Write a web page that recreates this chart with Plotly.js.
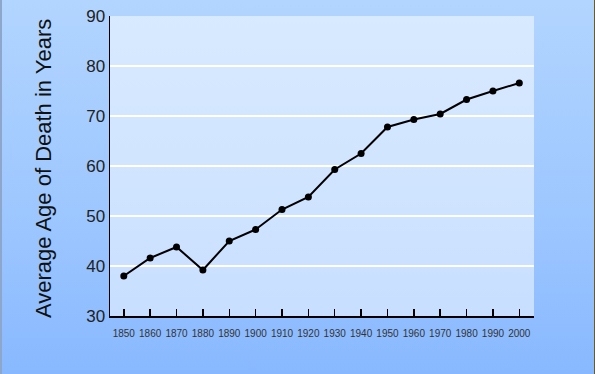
<!DOCTYPE html>
<html>
<head>
<meta charset="utf-8">
<script src="https://cdn.plot.ly/plotly-3.0.1.min.js"></script>
<style>
html,body{margin:0;padding:0;}
#wrap{position:relative;width:595px;height:374px;overflow:hidden;
 background:linear-gradient(to bottom,#b2d5ff 0%,#9cc6ff 60%,#88b8ff 100%);}
#edgeL{position:absolute;left:0;top:0;width:2px;height:374px;background:#8ea6cc;}
#edgeR{position:absolute;right:0;top:0;width:1px;height:374px;background:#6e5a26;}
#chart{position:absolute;left:0;top:0;width:595px;height:374px;}
</style>
</head>
<body>
<div id="wrap"><div id="edgeL"></div><div id="chart"></div><div id="edgeR"></div></div>
<script>
const years = [1850,1860,1870,1880,1890,1900,1910,1920,1930,1940,1950,1960,1970,1980,1990,2000];
const avgAge = [38.0,41.6,43.8,39.2,45.0,47.3,51.3,53.8,59.3,62.5,67.8,69.3,70.4,73.3,75.0,76.6];
const yTicks = [30,40,50,60,70,80,90];
const yTitle = 'Average Age of Death in Years';

Plotly.newPlot('chart', [{
  x: years, y: avgAge, type: 'scatter', mode: 'lines+markers',
  line: {color: '#000', width: 2},
  marker: {color: '#000', size: 7},
  hoverinfo: 'skip'
}], {
  width: 595, height: 374,
  margin: {l: 110, r: 61, t: 16, b: 58},
  paper_bgcolor: 'rgba(0,0,0,0)',
  plot_bgcolor: 'rgba(255,255,255,0.5)',
  showlegend: false,
  font: {family: 'Liberation Sans, Arial, sans-serif', color: '#222'},
  xaxis: {
    range: [1844.77, 2005.57], tickvals: years, ticktext: years.map(String),
    showgrid: false, zeroline: false,
    showline: true, linecolor: '#000', linewidth: 2,
    ticks: 'inside', ticklen: 7, tickcolor: '#000', tickwidth: 1.5,
    ticklabelstandoff: 7,
    tickfont: {size: 10, color: '#333'}, fixedrange: true
  },
  yaxis: {
    range: [30, 90], tickvals: yTicks,
    showgrid: true, gridcolor: '#ffffff', gridwidth: 2,
    zeroline: false, showline: true, linecolor: '#000', linewidth: 1.5,
    ticks: '', tickfont: {size: 17, color: '#222'}, fixedrange: true
  },
  annotations: [{
    text: yTitle, xref: 'paper', yref: 'paper', x: -0.158, y: 0.49,
    xanchor: 'center', yanchor: 'middle', textangle: -90, showarrow: false,
    font: {size: 22, color: '#111', family: 'Liberation Sans, Arial, sans-serif'}
  }]
}, {staticPlot: true});
</script>
</body>
</html>
